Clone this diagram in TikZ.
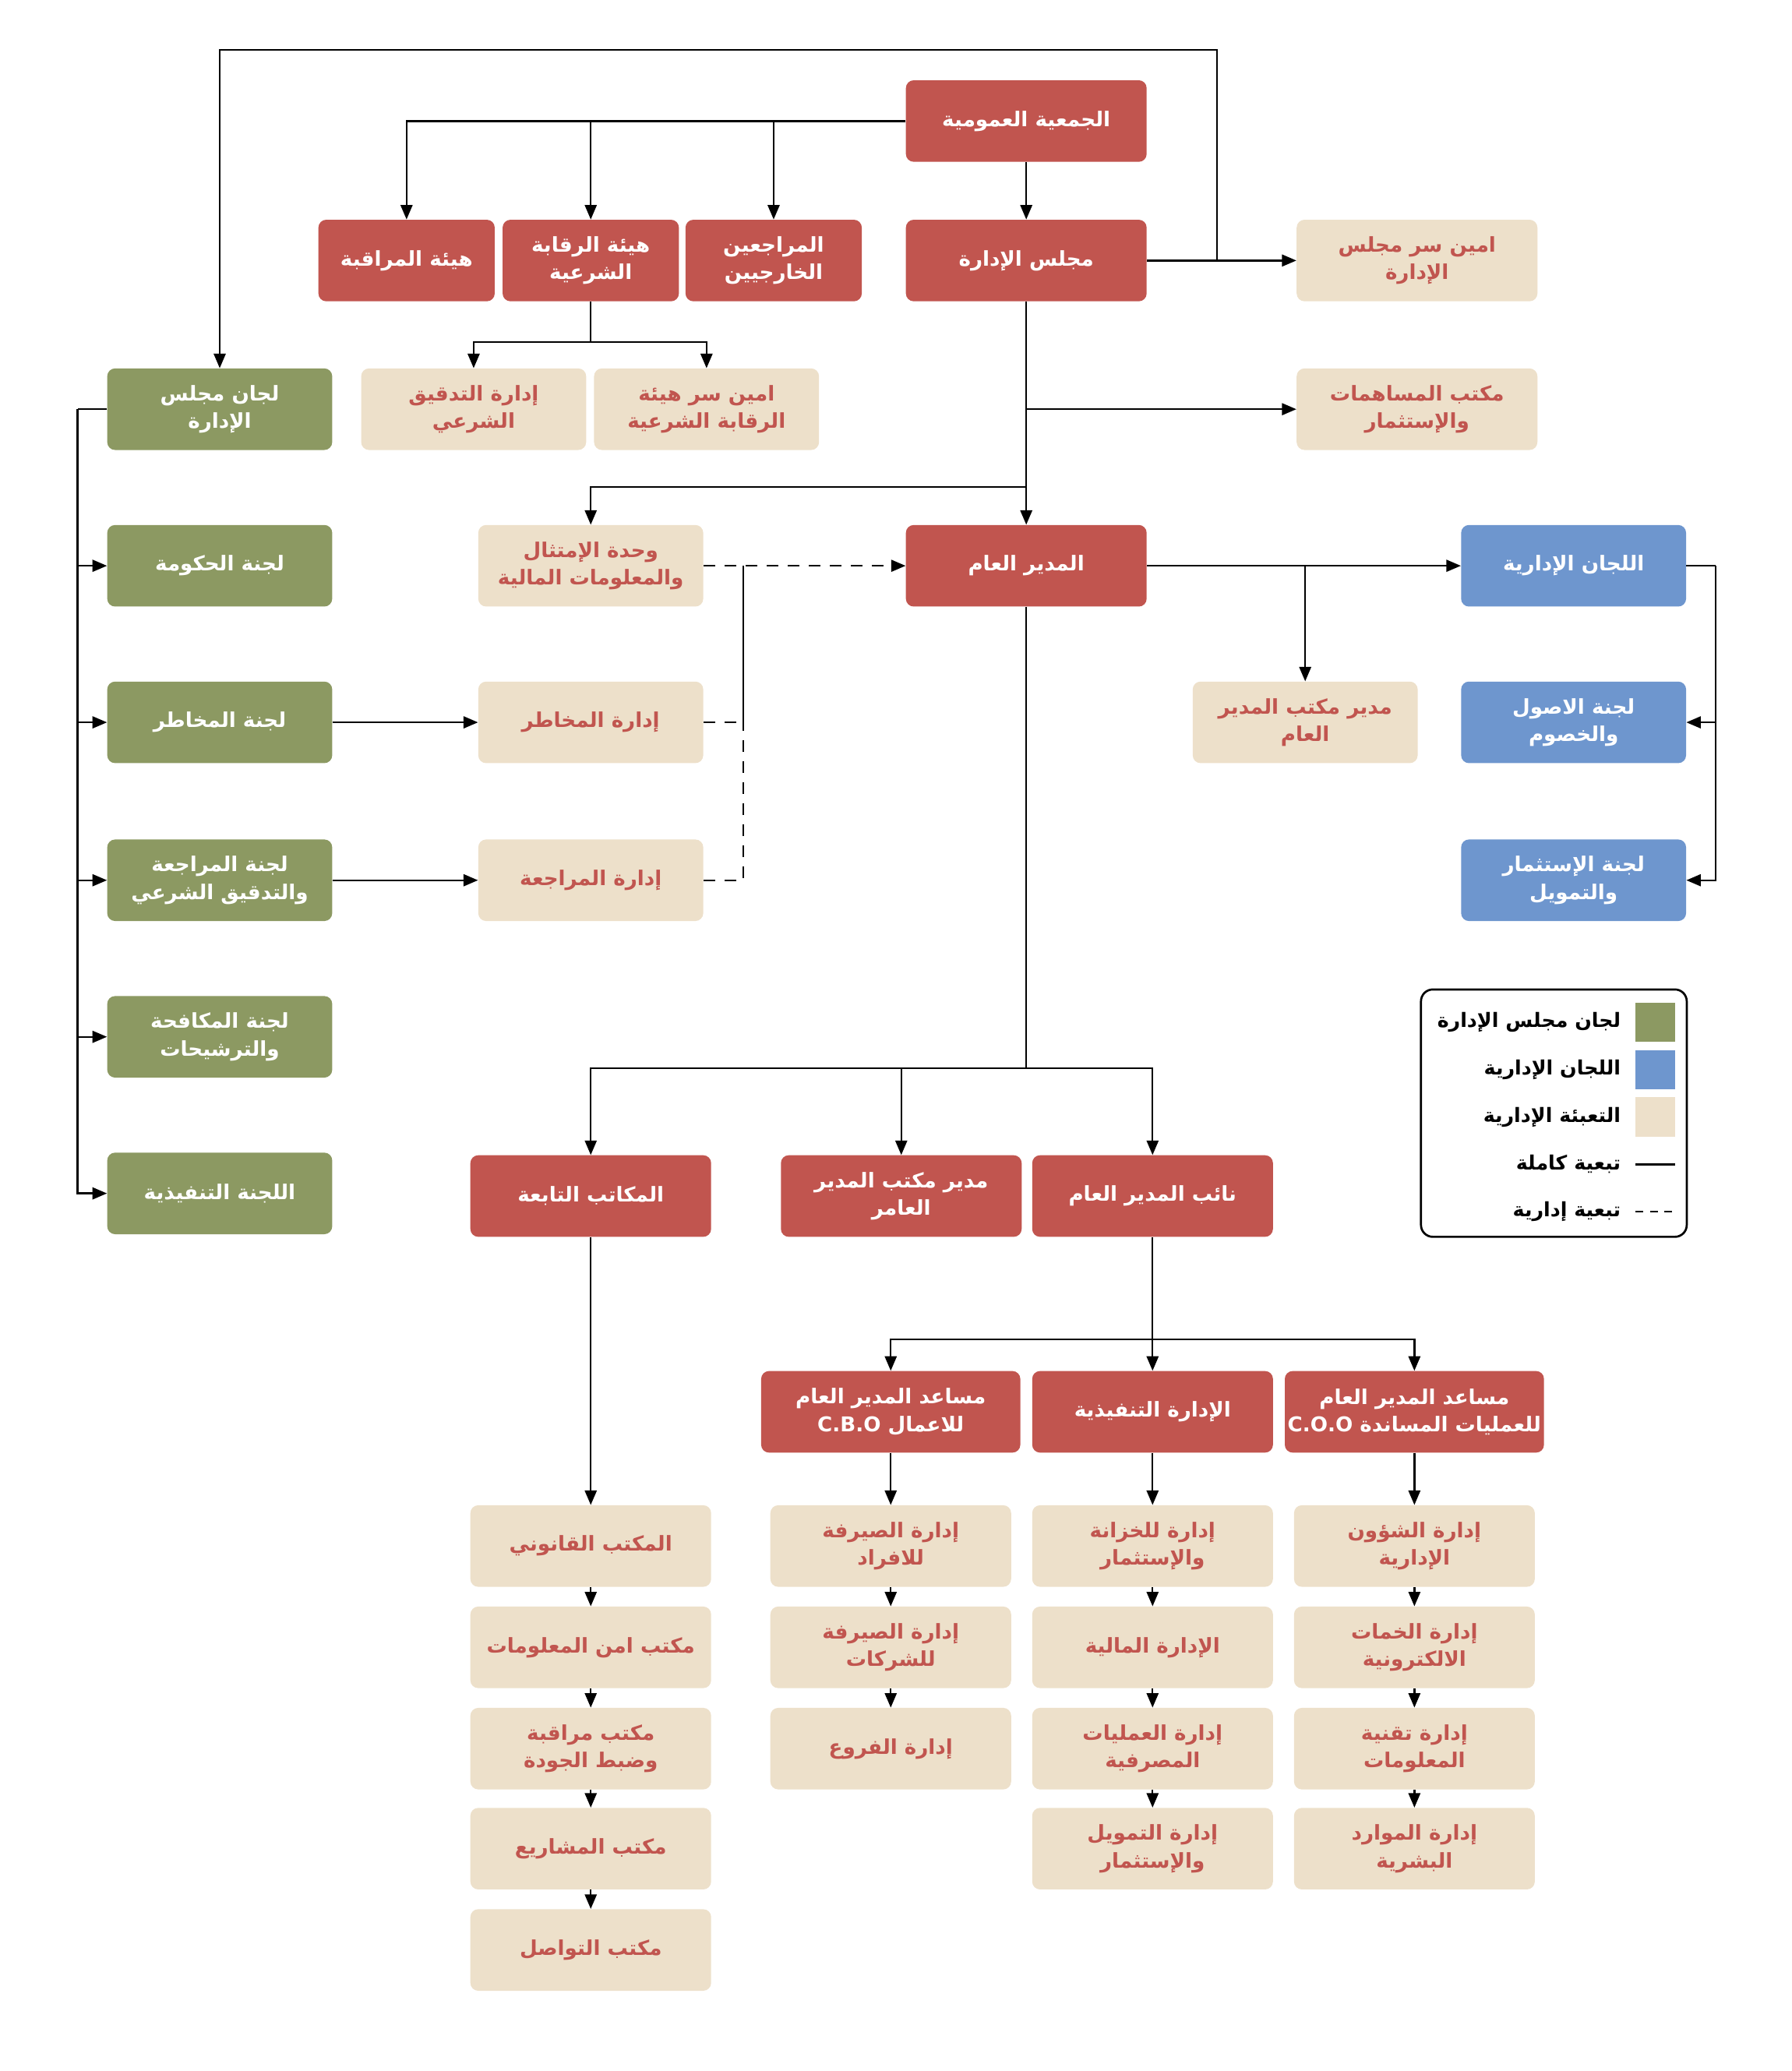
\documentclass[tikz,border=0pt]{standalone}
\usepackage{fontspec}
\TeXXeTstate=1
\newfontfamily\arabicfont[Script=Arabic]{DejaVu Sans}
\usetikzlibrary{arrows.meta}
\definecolor{cred}{HTML}{C1554F}
\definecolor{cgreen}{HTML}{8C9962}
\definecolor{cblue}{HTML}{6E96CE}
\definecolor{cbeige}{HTML}{EDE0CA}
\newcommand\ArT[1]{\beginR#1\endR}
\tikzset{
  box/.style={rounded corners=6pt, minimum height=62pt, inner sep=1pt, align=center,
    font=\arabicfont\bfseries\fontsize{15.5}{21}\selectfont},
  redbox/.style={box, fill=cred, text=white},
  greenbox/.style={box, fill=cgreen, text=white, minimum width=171pt},
  bluebox/.style={box, fill=cblue, text=white, minimum width=171pt},
  beigebox/.style={box, fill=cbeige, text=cred},
  ln/.style={draw=black, line width=1.4pt},
  arr/.style={ln, -{Triangle[length=11pt,width=9pt]}},
  darr/.style={arr, dash pattern=on 9pt off 7pt},
  dln/.style={ln, dash pattern=on 9pt off 7pt},
  legtext/.style={anchor=east, inner sep=0pt, font=\arabicfont\bfseries\fontsize{15}{17}\selectfont},
  swatch/.style={minimum width=30pt, minimum height=30pt, inner sep=0pt}
}
\begin{document}
\begin{tikzpicture}[x=1pt,y=-1pt]
\useasboundingbox (0,0) rectangle (1362,1574);
% top
\node[redbox, minimum width=183pt] (ga) at (780,92) {\ArT{الجمعية العمومية}};
\node[redbox, minimum width=183pt] (bd) at (780,198) {\ArT{مجلس الإدارة}};
\node[redbox, minimum width=134pt] (ext) at (588,198) {\ArT{المراجعين}\\\ArT{الخارجيين}};
\node[redbox, minimum width=134pt] (shb) at (449,198) {\ArT{هيئة الرقابة}\\\ArT{الشرعية}};
\node[redbox, minimum width=134pt] (aud) at (309,198) {\ArT{هيئة المراقبة}};
\node[beigebox, minimum width=183pt] (secb) at (1077,198) {\ArT{امين سر مجلس}\\\ArT{الإدارة}};
% row 2
\node[greenbox] (bc) at (167,311) {\ArT{لجان مجلس}\\\ArT{الإدارة}};
\node[beigebox, minimum width=171pt] (sha) at (360,311) {\ArT{إدارة التدقيق}\\\ArT{الشرعي}};
\node[beigebox, minimum width=171pt] (secs) at (537,311) {\ArT{امين سر هيئة}\\\ArT{الرقابة الشرعية}};
\node[beigebox, minimum width=183pt] (shr) at (1077,311) {\ArT{مكتب المساهمات}\\\ArT{والإستثمار}};
% row 3
\node[greenbox] (gov) at (167,430) {\ArT{لجنة الحكومة}};
\node[beigebox, minimum width=171pt] (comp) at (449,430) {\ArT{وحدة الإمتثال}\\\ArT{والمعلومات المالية}};
\node[redbox, minimum width=183pt] (gm) at (780,430) {\ArT{المدير العام}};
\node[bluebox] (mc) at (1196,430) {\ArT{اللجان الإدارية}};
% row 4
\node[greenbox] (risk) at (167,549) {\ArT{لجنة المخاطر}};
\node[beigebox, minimum width=171pt] (riskd) at (449,549) {\ArT{إدارة المخاطر}};
\node[beigebox, minimum width=171pt] (gmo) at (992,549) {\ArT{مدير مكتب المدير}\\\ArT{العام}};
\node[bluebox] (alco) at (1196,549) {\ArT{لجنة الاصول}\\\ArT{والخصوم}};
% row 5
\node[greenbox] (audc) at (167,669) {\ArT{لجنة المراجعة}\\\ArT{والتدقيق الشرعي}};
\node[beigebox, minimum width=171pt] (audd) at (449,669) {\ArT{إدارة المراجعة}};
\node[bluebox] (invc) at (1196,669) {\ArT{لجنة الإستثمار}\\\ArT{والتمويل}};
% rows 6-7
\node[greenbox] (remc) at (167,788) {\ArT{لجنة المكافحة}\\\ArT{والترشيحات}};
\node[greenbox] (exc) at (167,907) {\ArT{اللجنة التنفيذية}};
% red row
\node[redbox, minimum width=183pt] (subs) at (449,909) {\ArT{المكاتب التابعة}};
\node[redbox, minimum width=183pt] (gmo2) at (685,909) {\ArT{مدير مكتب المدير}\\\ArT{العامر}};
\node[redbox, minimum width=183pt] (dgm) at (876,909) {\ArT{نائب المدير العام}};
% second red row
\node[redbox, minimum width=197pt] (cbo) at (677,1073) {\ArT{مساعد المدير العام}\\\ArT{للاعمال \beginL C.B.O\endL}};
\node[redbox, minimum width=183pt] (exd) at (876,1073) {\ArT{الإدارة التنفيذية}};
\node[redbox, minimum width=197pt] (coo) at (1075,1073) {\ArT{مساعد المدير العام}\\\ArT{للعمليات المساندة \beginL C.O.O\endL}};
% left column
\node[beigebox, minimum width=183pt] (l1) at (449,1175) {\ArT{المكتب القانوني}};
\node[beigebox, minimum width=183pt] (l2) at (449,1252) {\ArT{مكتب امن المعلومات}};
\node[beigebox, minimum width=183pt] (l3) at (449,1329) {\ArT{مكتب مراقبة}\\\ArT{وضبط الجودة}};
\node[beigebox, minimum width=183pt] (l4) at (449,1405) {\ArT{مكتب المشاريع}};
\node[beigebox, minimum width=183pt] (l5) at (449,1482) {\ArT{مكتب التواصل}};
% cbo column
\node[beigebox, minimum width=183pt] (c1) at (677,1175) {\ArT{إدارة الصيرفة}\\\ArT{للافراد}};
\node[beigebox, minimum width=183pt] (c2) at (677,1252) {\ArT{إدارة الصيرفة}\\\ArT{للشركات}};
\node[beigebox, minimum width=183pt] (c3) at (677,1329) {\ArT{إدارة الفروع}};
% exec column
\node[beigebox, minimum width=183pt] (e1) at (876,1175) {\ArT{إدارة للخزانة}\\\ArT{والإستثمار}};
\node[beigebox, minimum width=183pt] (e2) at (876,1252) {\ArT{الإدارة المالية}};
\node[beigebox, minimum width=183pt] (e3) at (876,1329) {\ArT{إدارة العمليات}\\\ArT{المصرفية}};
\node[beigebox, minimum width=183pt] (e4) at (876,1405) {\ArT{إدارة التمويل}\\\ArT{والإستثمار}};
% coo column
\node[beigebox, minimum width=183pt] (o1) at (1075,1175) {\ArT{إدارة الشؤون}\\\ArT{الإدارية}};
\node[beigebox, minimum width=183pt] (o2) at (1075,1252) {\ArT{إدارة الخمات}\\\ArT{الالكترونية}};
\node[beigebox, minimum width=183pt] (o3) at (1075,1329) {\ArT{إدارة تقنية}\\\ArT{المعلومات}};
\node[beigebox, minimum width=183pt] (o4) at (1075,1405) {\ArT{إدارة الموارد}\\\ArT{البشرية}};
% legend
\node[draw=black, line width=1.6pt, rounded corners=9pt, minimum width=202pt, minimum height=188pt] (leg) at (1181,846) {};
\node[swatch, fill=cgreen] (s1) at (1258,777) {};
\node[swatch, fill=cblue] (s2) at (1258,813) {};
\node[swatch, fill=cbeige] (s3) at (1258,849) {};
\coordinate (s4a) at (1243,885); \coordinate (s4b) at (1273,885);
\coordinate (s5a) at (1243,921); \coordinate (s5b) at (1273,921);
\node[legtext] (t1) at (1232,777) {\ArT{لجان مجلس الإدارة}};
\node[legtext] (t2) at (1232,813) {\ArT{اللجان الإدارية}};
\node[legtext] (t3) at (1232,849) {\ArT{التعبئة الإدارية}};
\node[legtext] (t4) at (1232,885) {\ArT{تبعية كاملة}};
\node[legtext] (t5) at (1232,921) {\ArT{تبعية إدارية}};
\draw[line width=1.3pt] (s4a) -- (s4b);
\draw[line width=1.3pt, dash pattern=on 6pt off 5pt] (s5a) -- (s5b);
% connectors top
\coordinate (j1) at (925,198);
\coordinate (j1t) at (925,38);
\draw[arr] (bd.east) -- (secb.west);
\draw[arr] (j1) -- (j1t) -| (bc.north);
\draw[arr] (ga.west) -| (aud.north);
\draw[arr] (ga.west -| ext.north) -- (ext.north);
\draw[arr] (ga.west -| shb.north) -- (shb.north);
\draw[arr] (ga) -- (bd);
\coordinate (j2) at (449,260);
\draw[ln] (shb.south) -- (j2);
\draw[arr] (j2) -| (sha.north);
\draw[arr] (j2) -| (secs.north);
\draw[arr] (bd.south) -- (gm.north);
\draw[arr] (bd.south |- shr.west) -- (shr.west);
\coordinate (j3) at (780,370);
\draw[arr] (j3) -| (comp.north);
\draw[arr] (gm.east) -- (mc.west);
\draw[arr] (gm.east -| gmo.north) -- (gmo.north);
\coordinate (j4) at (1304,430);
\draw[ln] (mc.east) -- (j4);
\draw[arr] (j4) |- (alco.east);
\draw[arr] (j4) |- (invc.east);
% dashed
\coordinate (j5) at (565,430);
\draw[darr] (comp.east) -- (gm.west);
\draw[dln] (riskd.east) -| (j5);
\draw[dln] (audd.east) -| (j5);
% left spine
\coordinate (j6) at (59,311);
\draw[ln] (bc.west) -- (j6);
\draw[arr] (j6) |- (gov.west);
\draw[arr] (j6) |- (risk.west);
\draw[arr] (j6) |- (audc.west);
\draw[arr] (j6) |- (remc.west);
\draw[arr] (j6) |- (exc.west);
\draw[arr] (risk) -- (riskd);
\draw[arr] (audc) -- (audd);
% lower
\coordinate (j7) at (780,812);
\draw[ln] (gm.south) -- (j7);
\draw[arr] (j7) -| (subs.north);
\draw[arr] (j7) -| (dgm.north);
\draw[arr] (j7 -| gmo2.north) -- (gmo2.north);
\coordinate (j8) at (876,1018);
\draw[arr] (dgm.south) -- (exd.north);
\draw[arr] (j8) -| (cbo.north);
\draw[arr] (j8) -| (coo.north);
\draw[arr] (subs.south) -- (l1.north);
\draw[arr] (l1) -- (l2);
\draw[arr] (l2) -- (l3);
\draw[arr] (l3) -- (l4);
\draw[arr] (l4) -- (l5);
\draw[arr] (cbo) -- (c1);
\draw[arr] (c1) -- (c2);
\draw[arr] (c2) -- (c3);
\draw[arr] (exd) -- (e1);
\draw[arr] (e1) -- (e2);
\draw[arr] (e2) -- (e3);
\draw[arr] (e3) -- (e4);
\draw[arr] (coo) -- (o1);
\draw[arr] (o1) -- (o2);
\draw[arr] (o2) -- (o3);
\draw[arr] (o3) -- (o4);
\end{tikzpicture}
\end{document}
